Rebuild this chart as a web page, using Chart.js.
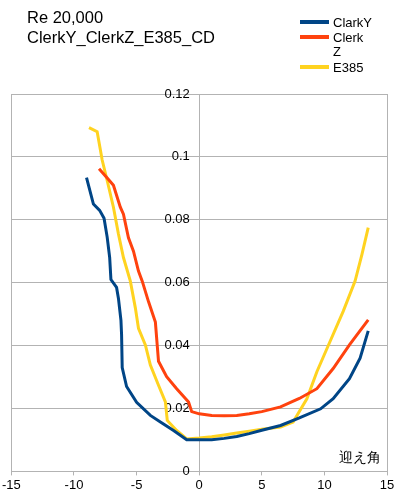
<!DOCTYPE html>
<html>
<head>
<meta charset="utf-8">
<script src="https://cdn.jsdelivr.net/npm/chart.js@4"></script>
<style>
  html, body { margin: 0; padding: 0; background: #fff; }
  #wrap { position: relative; width: 400px; height: 500px; }
</style>
</head>
<body>
<div id="wrap"><canvas id="chart" width="400" height="500"></canvas></div>
<script>
// angle of attack (deg) and CD per airfoil
const clarkYAngle = [-9.0, -8.45, -7.95, -7.6, -7.35, -7.15, -7.05, -6.6, -6.45, -6.25, -6.2, -6.15, -5.8, -5.0, -3.9, -3.1, -2.05, -1.0, 0, 1, 2, 3, 4, 5, 6.5, 8, 9.7, 10.7, 12.0, 12.85, 13.5];
const clarkYCd = [0.0934, 0.085, 0.083, 0.0805, 0.0745, 0.068, 0.061, 0.0585, 0.055, 0.048, 0.0435, 0.033, 0.027, 0.022, 0.0178, 0.0157, 0.013, 0.0101, 0.0101, 0.0101, 0.0105, 0.0111, 0.012, 0.0131, 0.0146, 0.017, 0.0199, 0.0231, 0.0295, 0.036, 0.0447];

const clerkZAngle = [-8.0, -7.4, -6.85, -6.3, -6.05, -5.65, -5.25, -4.85, -4.55, -4.05, -3.5, -3.25, -2.6, -1.8, -0.85, -0.6, 0, 1, 2, 3, 4, 5, 6.5, 8, 9.4, 10.7, 12.0, 13.5];
const clerkZCd = [0.0962, 0.0935, 0.091, 0.084, 0.0818, 0.0743, 0.07, 0.0637, 0.0605, 0.054, 0.0475, 0.035, 0.0301, 0.0263, 0.0221, 0.019, 0.0183, 0.0178, 0.0177, 0.0178, 0.0183, 0.019, 0.0205, 0.0232, 0.0263, 0.0327, 0.0402, 0.0482];

const e385Angle = [-8.8, -8.15, -7.75, -7.35, -6.85, -6.45, -6.05, -5.5, -5.1, -4.85, -4.3, -3.9, -3.25, -2.7, -2.55, -1.8, -1.0, 0, 1, 2, 3, 4, 5, 6.5, 7.5, 8.6, 9.4, 10.45, 11.5, 12.45, 13.0, 13.5];
const e385Cd = [0.1093, 0.108, 0.099, 0.0925, 0.084, 0.0755, 0.068, 0.0605, 0.052, 0.0455, 0.0402, 0.0338, 0.0274, 0.0221, 0.0162, 0.013, 0.0103, 0.0106, 0.011, 0.0116, 0.0122, 0.0128, 0.0134, 0.0141, 0.0157, 0.0231, 0.0317, 0.0413, 0.0509, 0.0605, 0.069, 0.0775];

const titleLines = ['Re 20,000', 'ClerkY_ClerkZ_E385_CD'];
const seriesNames = ['ClarkY', 'ClerkZ', 'E385'];
const legendLines = [['ClarkY'], ['Clerk', 'Z'], ['E385']];
const xAxisLabel = '迎え角';

const font = '"Liberation Sans", Arial, sans-serif';
const gridGrey = '#b3b3b3';

function toPoints(xs, ys) {
    return xs.map((x, i) => ({x: x, y: ys[i]}));
}

function makeSet(label, xs, ys, color) {
    return {
        label: label,
        data: toPoints(xs, ys),
        showLine: true,
        borderColor: color,
        backgroundColor: color,
        borderWidth: 3,
        pointRadius: 0,
        tension: 0
    };
}

// title, legend and the axis caption are drawn straight onto the canvas
const decorations = {
    id: 'decorations',
    afterDraw(chart) {
        const ctx = chart.ctx;
        ctx.save();
        ctx.fillStyle = '#000';
        ctx.textBaseline = 'alphabetic';
        ctx.textAlign = 'left';
        ctx.font = '16.5px ' + font;
        ctx.fillText(titleLines[0], 27, 23);
        ctx.fillText(titleLines[1], 27, 43);

        ctx.font = '13px ' + font;
        const rows = [22, 37, 67];
        chart.data.datasets.forEach((ds, i) => {
            ctx.strokeStyle = ds.borderColor;
            ctx.lineWidth = 4;
            ctx.beginPath();
            ctx.moveTo(300, rows[i]);
            ctx.lineTo(329, rows[i]);
            ctx.stroke();
            legendLines[i].forEach((t, j) => {
                ctx.fillText(t, 333, rows[i] + 5 + j * 14);
            });
        });

        ctx.textAlign = 'right';
        ctx.font = '13.5px ' + font;
        ctx.fillText(xAxisLabel, 381, 462);
        ctx.restore();
    }
};

new Chart(document.getElementById('chart'), {
    type: 'scatter',
    data: {
        datasets: [
            makeSet(seriesNames[0], clarkYAngle, clarkYCd, '#004586'),
            makeSet(seriesNames[1], clerkZAngle, clerkZCd, '#ff420e'),
            makeSet(seriesNames[2], e385Angle, e385Cd, '#ffd320')
        ]
    },
    options: {
        responsive: false,
        animation: false,
        layout: {padding: {left: 11, right: 13, top: 94, bottom: 5}},
        plugins: {
            legend: {display: false},
            title: {display: false},
            tooltip: {enabled: false}
        },
        scales: {
            x: {
                type: 'linear',
                min: -15,
                max: 15,
                ticks: {stepSize: 5, color: '#000', font: {family: font, size: 13}, padding: 2},
                grid: {
                    color: (c) => (c.tick && (Math.abs(c.tick.value) === 15 || c.tick.value === 0)) ? gridGrey : 'rgba(0,0,0,0)',
                    tickColor: gridGrey,
                    tickLength: 4
                },
                border: {color: gridGrey}
            },
            y: {
                type: 'linear',
                min: 0,
                max: 0.12,
                // labels sit a little left of the zero line, like the original
                position: {x: -0.75},
                ticks: {
                    stepSize: 0.02,
                    color: '#000',
                    font: {family: font, size: 13},
                    callback: (v) => String(Number(v.toFixed(2)))
                },
                grid: {color: gridGrey, drawTicks: false},
                border: {display: false}
            }
        }
    },
    plugins: [decorations]
});
</script>
</body>
</html>
